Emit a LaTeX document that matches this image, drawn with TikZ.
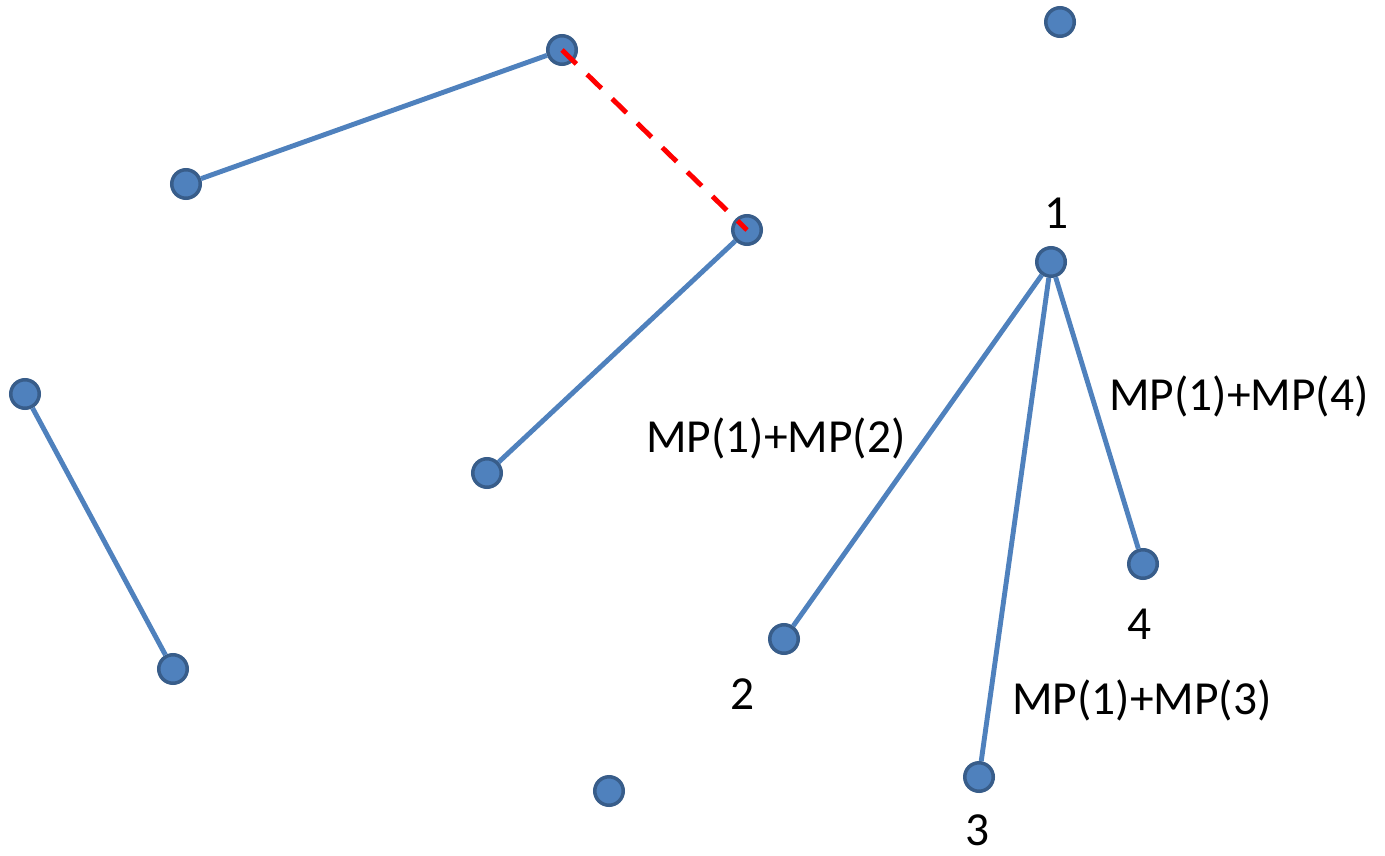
\documentclass[tikz,border=0pt]{standalone}
\usepackage{fontspec}
\setmainfont{Carlito}
\usetikzlibrary{positioning}
\definecolor{nodeblue}{HTML}{4F81BD}
\definecolor{nodeedge}{HTML}{385D8A}

\begin{document}
\begin{tikzpicture}[
    x=0.02cm, y=-0.02cm,
    point/.style={circle, draw=nodeedge, fill=nodeblue, line width=2pt, minimum size=0.57cm, inner sep=0pt},
    link/.style={draw=nodeblue, line width=2.8pt},
    cut/.style={draw=red, line width=2.8pt, dash pattern=on 0.4cm off 0.3cm},
    tag/.style={font=\fontsize{27}{31}\selectfont, inner sep=0pt}
]
    \useasboundingbox (0,0) rectangle (1385,855);
    % Nodes
    \node[point] (a) at (562,50) {};
    \node[point] (b) at (186,184) {};
    \node[point] (c) at (747,230) {};
    \node[point] (d) at (487,473) {};
    \node[point] (e) at (25,394) {};
    \node[point] (f) at (173,669) {};
    \node[point] (g) at (1060,22) {};
    \node[point] (h) at (609,791) {};
    \node[point] (n1) at (1051,262) {};
    \node[point] (n2) at (784,639) {};
    \node[point] (n3) at (979,777) {};
    \node[point] (n4) at (1143,564) {};
    % Labels
    \node[tag] (t1) at (1057,213) {1};
    \node[tag] (t2) at (743,694) {2};
    \node[tag] (t3) at (978,830) {3};
    \node[tag] (t4) at (1140,624) {4};
    \node[tag] (m2) at (776,438) {MP(1)+MP(2)};
    \node[tag] (m4) at (1239,396) {MP(1)+MP(4)};
    \node[tag] (m3) at (1142,700) {MP(1)+MP(3)};
    % Connections
    \draw[link] (a) -- (b);
    \draw[link] (c) -- (d);
    \draw[link] (e) -- (f);
    \draw[link] (n1) -- (n2);
    \draw[link] (n1) -- (n3);
    \draw[link] (n1) -- (n4);
    \draw[cut] (a.center) -- (c.center);
\end{tikzpicture}
\end{document}
